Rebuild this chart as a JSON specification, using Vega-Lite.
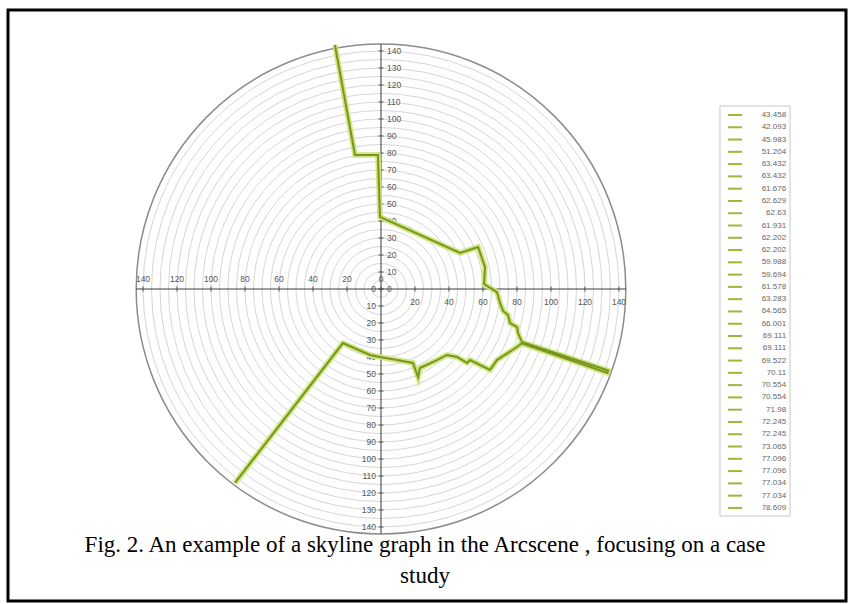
{
  "$schema": "https://vega.github.io/schema/vega-lite/v6.json",
  "width": 838,
  "height": 591,
  "autosize": {"type": "none"},
  "padding": {"left": 8, "top": 10, "right": 5, "bottom": 3},
  "background": "white",
  "config": {
    "view": {"stroke": "#000000", "strokeWidth": 3},
    "axis": {"disable": true},
    "legend": {"disable": true}
  },
  "datasets": {
    "one": [{"id": 1}],
    "rings": [
      {"r": 5, "kind": "inner"}, {"r": 10, "kind": "inner"}, {"r": 15, "kind": "inner"}, {"r": 20, "kind": "inner"},
      {"r": 25, "kind": "inner"}, {"r": 30, "kind": "inner"}, {"r": 35, "kind": "inner"}, {"r": 40, "kind": "inner"},
      {"r": 45, "kind": "inner"}, {"r": 50, "kind": "inner"}, {"r": 55, "kind": "inner"}, {"r": 60, "kind": "inner"},
      {"r": 65, "kind": "inner"}, {"r": 70, "kind": "inner"}, {"r": 75, "kind": "inner"}, {"r": 80, "kind": "inner"},
      {"r": 85, "kind": "inner"}, {"r": 90, "kind": "inner"}, {"r": 95, "kind": "inner"}, {"r": 100, "kind": "inner"},
      {"r": 105, "kind": "inner"}, {"r": 110, "kind": "inner"}, {"r": 115, "kind": "inner"}, {"r": 120, "kind": "inner"},
      {"r": 125, "kind": "inner"}, {"r": 130, "kind": "inner"}, {"r": 135, "kind": "inner"}, {"r": 140, "kind": "inner"},
      {"r": 144, "kind": "outer"}
    ],
    "skyline": [
      {"i": 1, "x": -27.1, "y": 143.5},
      {"i": 2, "x": -15.3, "y": 78.8},
      {"i": 3, "x": -1.8, "y": 78.8},
      {"i": 4, "x": -0.6, "y": 42.4},
      {"i": 5, "x": 46.5, "y": 21.2},
      {"i": 6, "x": 57.1, "y": 24.7},
      {"i": 7, "x": 61.2, "y": 12.9},
      {"i": 8, "x": 60.6, "y": 2.9},
      {"i": 9, "x": 68.2, "y": -1.8},
      {"i": 10, "x": 70.0, "y": -8.2},
      {"i": 11, "x": 71.8, "y": -12.9},
      {"i": 12, "x": 74.7, "y": -15.3},
      {"i": 13, "x": 75.9, "y": -20.0},
      {"i": 14, "x": 80.0, "y": -22.4},
      {"i": 15, "x": 80.6, "y": -25.9},
      {"i": 16, "x": 82.9, "y": -31.2},
      {"i": 17, "x": 133.6, "y": -47.9},
      {"i": 18, "x": 133.2, "y": -49.4},
      {"i": 19, "x": 82.7, "y": -32.0},
      {"i": 20, "x": 80.0, "y": -34.1},
      {"i": 21, "x": 68.2, "y": -41.8},
      {"i": 22, "x": 64.1, "y": -47.6},
      {"i": 23, "x": 52.4, "y": -41.8},
      {"i": 24, "x": 50.6, "y": -43.5},
      {"i": 25, "x": 44.7, "y": -40.0},
      {"i": 26, "x": 38.8, "y": -38.8},
      {"i": 27, "x": 32.9, "y": -41.8},
      {"i": 28, "x": 22.9, "y": -46.5},
      {"i": 29, "x": 21.8, "y": -51.8},
      {"i": 30, "x": 18.8, "y": -43.5},
      {"i": 31, "x": 9.4, "y": -41.8},
      {"i": 32, "x": -0.6, "y": -40.0},
      {"i": 33, "x": -6.5, "y": -38.8},
      {"i": 34, "x": -22.4, "y": -31.8},
      {"i": 35, "x": -85.9, "y": -114.1}
    ],
    "xticks": [
      {"v": -140, "lab": "140", "side": "left"}, {"v": -120, "lab": "120", "side": "left"},
      {"v": -100, "lab": "100", "side": "left"}, {"v": -80, "lab": "80", "side": "left"},
      {"v": -60, "lab": "60", "side": "left"}, {"v": -40, "lab": "40", "side": "left"},
      {"v": -20, "lab": "20", "side": "left"}, {"v": 0, "lab": "0", "side": "left"},
      {"v": 20, "lab": "20", "side": "right"}, {"v": 40, "lab": "40", "side": "right"},
      {"v": 60, "lab": "60", "side": "right"}, {"v": 80, "lab": "80", "side": "right"},
      {"v": 100, "lab": "100", "side": "right"}, {"v": 120, "lab": "120", "side": "right"},
      {"v": 140, "lab": "140", "side": "right"}
    ],
    "yticks": [
      {"v": 0, "lab": "0", "side": "top"}, {"v": 10, "lab": "10", "side": "top"}, {"v": 20, "lab": "20", "side": "top"},
      {"v": 30, "lab": "30", "side": "top"}, {"v": 40, "lab": "40", "side": "top"}, {"v": 50, "lab": "50", "side": "top"},
      {"v": 60, "lab": "60", "side": "top"}, {"v": 70, "lab": "70", "side": "top"}, {"v": 80, "lab": "80", "side": "top"},
      {"v": 90, "lab": "90", "side": "top"}, {"v": 100, "lab": "100", "side": "top"}, {"v": 110, "lab": "110", "side": "top"},
      {"v": 120, "lab": "120", "side": "top"}, {"v": 130, "lab": "130", "side": "top"}, {"v": 140, "lab": "140", "side": "top"},
      {"v": 0, "lab": "0", "side": "bottom"}, {"v": -10, "lab": "10", "side": "bottom"}, {"v": -20, "lab": "20", "side": "bottom"},
      {"v": -30, "lab": "30", "side": "bottom"}, {"v": -40, "lab": "40", "side": "bottom"}, {"v": -50, "lab": "50", "side": "bottom"},
      {"v": -60, "lab": "60", "side": "bottom"}, {"v": -70, "lab": "70", "side": "bottom"}, {"v": -80, "lab": "80", "side": "bottom"},
      {"v": -90, "lab": "90", "side": "bottom"}, {"v": -100, "lab": "100", "side": "bottom"}, {"v": -110, "lab": "110", "side": "bottom"},
      {"v": -120, "lab": "120", "side": "bottom"}, {"v": -130, "lab": "130", "side": "bottom"}, {"v": -140, "lab": "140", "side": "bottom"}
    ],
    "legend": [
      {"k": 1, "lab": "43.458"}, {"k": 2, "lab": "42.093"}, {"k": 3, "lab": "45.983"}, {"k": 4, "lab": "51.204"},
      {"k": 5, "lab": "63.432"}, {"k": 6, "lab": "63.432"}, {"k": 7, "lab": "61.676"}, {"k": 8, "lab": "62.629"},
      {"k": 9, "lab": "62.63"}, {"k": 10, "lab": "61.931"}, {"k": 11, "lab": "62.202"}, {"k": 12, "lab": "62.202"},
      {"k": 13, "lab": "59.988"}, {"k": 14, "lab": "59.694"}, {"k": 15, "lab": "61.578"}, {"k": 16, "lab": "63.283"},
      {"k": 17, "lab": "64.565"}, {"k": 18, "lab": "66.001"}, {"k": 19, "lab": "69.111"}, {"k": 20, "lab": "69.111"},
      {"k": 21, "lab": "69.522"}, {"k": 22, "lab": "70.11"}, {"k": 23, "lab": "70.554"}, {"k": 24, "lab": "70.554"},
      {"k": 25, "lab": "71.98"}, {"k": 26, "lab": "72.245"}, {"k": 27, "lab": "72.245"}, {"k": 28, "lab": "73.065"},
      {"k": 29, "lab": "77.096"}, {"k": 30, "lab": "77.096"}, {"k": 31, "lab": "77.034"}, {"k": 32, "lab": "77.034"},
      {"k": 33, "lab": "78.609"}
    ]
  },
  "layer": [
    {
      "layer": [
        {
          "data": {"name": "rings"},
          "transform": [{"filter": "datum.kind == 'inner'"}],
          "mark": {"type": "point", "shape": "circle", "filled": false, "stroke": "#d6d6d6", "strokeWidth": 1, "opacity": 1},
          "encoding": {
            "x": {"datum": 0, "type": "quantitative", "scale": {"domain": [-219.41, 273.53], "nice": false, "zero": false}},
            "y": {"datum": 0, "type": "quantitative", "scale": {"domain": [-183.53, 164.12], "nice": false, "zero": false}},
            "size": {"field": "r", "type": "quantitative", "scale": {"type": "pow", "exponent": 2, "domain": [0, 145], "range": [0, 243049]}}
          }
        },
        {
          "data": {"name": "rings"},
          "transform": [{"filter": "datum.kind == 'outer'"}],
          "mark": {"type": "point", "shape": "circle", "filled": false, "stroke": "#8c8c8c", "strokeWidth": 1.5, "opacity": 1},
          "encoding": {
            "x": {"datum": 0, "type": "quantitative", "scale": {"domain": [-219.41, 273.53], "nice": false, "zero": false}},
            "y": {"datum": 0, "type": "quantitative", "scale": {"domain": [-183.53, 164.12], "nice": false, "zero": false}},
            "size": {"field": "r", "type": "quantitative", "scale": {"type": "pow", "exponent": 2, "domain": [0, 145], "range": [0, 243049]}}
          }
        },
        {
          "data": {"name": "one"},
          "mark": {"type": "rule", "color": "#3a3a3a", "strokeWidth": 1},
          "encoding": {
            "x": {"datum": -144, "type": "quantitative", "scale": {"domain": [-219.41, 273.53], "nice": false, "zero": false}},
            "x2": {"datum": 144},
            "y": {"datum": 0, "type": "quantitative", "scale": {"domain": [-183.53, 164.12], "nice": false, "zero": false}}
          }
        },
        {
          "data": {"name": "one"},
          "mark": {"type": "rule", "color": "#3a3a3a", "strokeWidth": 1},
          "encoding": {
            "x": {"datum": 0, "type": "quantitative", "scale": {"domain": [-219.41, 273.53], "nice": false, "zero": false}},
            "y": {"datum": -144, "type": "quantitative", "scale": {"domain": [-183.53, 164.12], "nice": false, "zero": false}},
            "y2": {"datum": 144}
          }
        },
        {
          "data": {"name": "xticks"},
          "mark": {"type": "tick", "orient": "vertical", "size": 5, "thickness": 1, "color": "#555555", "opacity": 1},
          "encoding": {
            "x": {"field": "v", "type": "quantitative", "scale": {"domain": [-219.41, 273.53], "nice": false, "zero": false}},
            "y": {"datum": 0, "type": "quantitative", "scale": {"domain": [-183.53, 164.12], "nice": false, "zero": false}}
          }
        },
        {
          "data": {"name": "yticks"},
          "mark": {"type": "tick", "orient": "horizontal", "size": 5, "thickness": 1, "color": "#555555", "opacity": 1},
          "encoding": {
            "x": {"datum": 0, "type": "quantitative", "scale": {"domain": [-219.41, 273.53], "nice": false, "zero": false}},
            "y": {"field": "v", "type": "quantitative", "scale": {"domain": [-183.53, 164.12], "nice": false, "zero": false}}
          }
        },
        {
          "data": {"name": "xticks"},
          "transform": [{"filter": "datum.side == 'left'"}],
          "mark": {"type": "text", "font": "Liberation Sans", "fontSize": 8.5, "color": "#555555", "align": "center", "baseline": "middle", "dy": -10},
          "encoding": {
            "x": {"field": "v", "type": "quantitative", "scale": {"domain": [-219.41, 273.53], "nice": false, "zero": false}},
            "y": {"datum": 0, "type": "quantitative", "scale": {"domain": [-183.53, 164.12], "nice": false, "zero": false}},
            "text": {"field": "lab"}
          }
        },
        {
          "data": {"name": "xticks"},
          "transform": [{"filter": "datum.side == 'right'"}],
          "mark": {"type": "text", "font": "Liberation Sans", "fontSize": 8.5, "color": "#555555", "align": "center", "baseline": "middle", "dy": 13},
          "encoding": {
            "x": {"field": "v", "type": "quantitative", "scale": {"domain": [-219.41, 273.53], "nice": false, "zero": false}},
            "y": {"datum": 0, "type": "quantitative", "scale": {"domain": [-183.53, 164.12], "nice": false, "zero": false}},
            "text": {"field": "lab"}
          }
        },
        {
          "data": {"name": "yticks"},
          "transform": [{"filter": "datum.side == 'top'"}],
          "mark": {"type": "text", "font": "Liberation Sans", "fontSize": 8.5, "color": "#555555", "align": "left", "baseline": "middle", "dx": 6},
          "encoding": {
            "x": {"datum": 0, "type": "quantitative", "scale": {"domain": [-219.41, 273.53], "nice": false, "zero": false}},
            "y": {"field": "v", "type": "quantitative", "scale": {"domain": [-183.53, 164.12], "nice": false, "zero": false}},
            "text": {"field": "lab"}
          }
        },
        {
          "data": {"name": "yticks"},
          "transform": [{"filter": "datum.side == 'bottom'"}],
          "mark": {"type": "text", "font": "Liberation Sans", "fontSize": 8.5, "color": "#555555", "align": "right", "baseline": "middle", "dx": -5},
          "encoding": {
            "x": {"datum": 0, "type": "quantitative", "scale": {"domain": [-219.41, 273.53], "nice": false, "zero": false}},
            "y": {"field": "v", "type": "quantitative", "scale": {"domain": [-183.53, 164.12], "nice": false, "zero": false}},
            "text": {"field": "lab"}
          }
        },
        {
          "data": {"name": "skyline"},
          "mark": {"type": "line", "color": "#cde478", "strokeWidth": 5.5, "strokeJoin": "miter", "opacity": 0.95},
          "encoding": {
            "x": {"field": "x", "type": "quantitative", "scale": {"domain": [-219.41, 273.53], "nice": false, "zero": false}},
            "y": {"field": "y", "type": "quantitative", "scale": {"domain": [-183.53, 164.12], "nice": false, "zero": false}},
            "order": {"field": "i", "type": "quantitative"}
          }
        },
        {
          "data": {"name": "skyline"},
          "mark": {"type": "line", "color": "#76961f", "strokeWidth": 2, "strokeJoin": "miter"},
          "encoding": {
            "x": {"field": "x", "type": "quantitative", "scale": {"domain": [-219.41, 273.53], "nice": false, "zero": false}},
            "y": {"field": "y", "type": "quantitative", "scale": {"domain": [-183.53, 164.12], "nice": false, "zero": false}},
            "order": {"field": "i", "type": "quantitative"}
          }
        },
        {
          "data": {"name": "one"},
          "mark": {"type": "text", "text": "Fig. 2. An example of a skyline graph in the Arcscene , focusing on a case", "font": "Liberation Serif", "fontSize": 23, "color": "#000000", "align": "center", "baseline": "middle"},
          "encoding": {
            "x": {"datum": 25.9, "type": "quantitative", "scale": {"domain": [-219.41, 273.53], "nice": false, "zero": false}},
            "y": {"datum": -150.3, "type": "quantitative", "scale": {"domain": [-183.53, 164.12], "nice": false, "zero": false}}
          }
        },
        {
          "data": {"name": "one"},
          "mark": {"type": "text", "text": "study", "font": "Liberation Serif", "fontSize": 23, "color": "#000000", "align": "center", "baseline": "middle"},
          "encoding": {
            "x": {"datum": 25.9, "type": "quantitative", "scale": {"domain": [-219.41, 273.53], "nice": false, "zero": false}},
            "y": {"datum": -168.6, "type": "quantitative", "scale": {"domain": [-183.53, 164.12], "nice": false, "zero": false}}
          }
        }
      ]
    },
    {
      "layer": [
        {
          "data": {"name": "one"},
          "mark": {"type": "rect", "fill": "#ffffff", "stroke": "#c8c8c8", "strokeWidth": 1},
          "encoding": {
            "x": {"datum": 199.4, "type": "quantitative", "scale": {"domain": [-219.41, 273.53], "nice": false, "zero": false}},
            "x2": {"datum": 240.6},
            "y": {"datum": 0.27, "type": "quantitative", "scale": {"domain": [-7.55, 40.58], "reverse": true, "nice": false, "zero": false}},
            "y2": {"datum": 33.66}
          }
        },
        {
          "data": {"name": "legend"},
          "mark": {"type": "rule", "color": "#9ab83a", "strokeWidth": 2},
          "encoding": {
            "x": {"datum": 204.1, "type": "quantitative", "scale": {"domain": [-219.41, 273.53], "nice": false, "zero": false}},
            "x2": {"datum": 212.4},
            "y": {"field": "k", "type": "quantitative", "scale": {"domain": [-7.55, 40.58], "reverse": true, "nice": false, "zero": false}}
          }
        },
        {
          "data": {"name": "legend"},
          "mark": {"type": "text", "font": "Liberation Sans", "fontSize": 8, "color": "#666666", "align": "right", "baseline": "middle"},
          "encoding": {
            "x": {"datum": 238.3, "type": "quantitative", "scale": {"domain": [-219.41, 273.53], "nice": false, "zero": false}},
            "y": {"field": "k", "type": "quantitative", "scale": {"domain": [-7.55, 40.58], "reverse": true, "nice": false, "zero": false}},
            "text": {"field": "lab"}
          }
        }
      ]
    }
  ],
  "resolve": {"scale": {"y": "independent"}}
}
